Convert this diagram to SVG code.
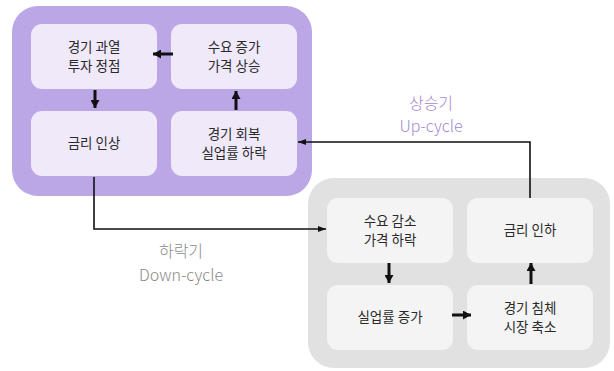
<svg xmlns="http://www.w3.org/2000/svg" width="614" height="371" viewBox="0 0 614 371">
<defs>
<style>
.pc{fill:#bca7e6}
.pb{fill:#efe9fa}
.gc{fill:#e1e1e1}
.gb{fill:#f4f4f4}
.t{font-family:"Noto Sans CJK KR","Noto Sans",sans-serif;font-size:13.5px;fill:#2a2a2a;text-anchor:middle}
.lbl{font-family:"Noto Sans CJK KR","Noto Sans",sans-serif;font-size:16px;font-weight:300;text-anchor:middle}
.thick{stroke:#111;stroke-width:3;fill:none}
.thin{stroke:#111;stroke-width:1.6;fill:none}
</style>
<marker id="ah" markerWidth="8" markerHeight="9" refX="8" refY="4.5" orient="auto" markerUnits="userSpaceOnUse"><path d="M0,0 L8,4.5 L0,9 Z" fill="#111"/></marker>
<marker id="ah2" markerWidth="8" markerHeight="6" refX="8" refY="3" orient="auto" markerUnits="userSpaceOnUse"><path d="M0,0 L8,3 L0,6 Z" fill="#111"/></marker>
</defs>
<rect class="pc" x="12" y="6" width="300" height="190" rx="26"/>
<rect class="gc" x="308" y="178" width="302" height="190" rx="26"/>
<g id="n-overheat"><rect class="pb" x="31" y="24" width="126" height="65" rx="11"/><text class="t" x="94" y="52">경기 과열</text><text class="t" x="94" y="71">투자 정점</text></g>
<g id="n-demandup"><rect class="pb" x="171" y="24" width="126" height="65" rx="11"/><text class="t" x="234" y="52">수요 증가</text><text class="t" x="234" y="71">가격 상승</text></g>
<g id="n-rateup"><rect class="pb" x="31" y="111" width="126" height="65" rx="11"/><text class="t" x="94" y="148">금리 인상</text></g>
<g id="n-recovery"><rect class="pb" x="171" y="111" width="126" height="65" rx="11"/><text class="t" x="234" y="139">경기 회복</text><text class="t" x="234" y="158">실업률 하락</text></g>
<g id="n-demanddown"><rect class="gb" x="327" y="198" width="126" height="65" rx="11"/><text class="t" x="390" y="226">수요 감소</text><text class="t" x="390" y="245">가격 하락</text></g>
<g id="n-ratedown"><rect class="gb" x="467" y="198" width="126" height="65" rx="11"/><text class="t" x="530" y="235">금리 인하</text></g>
<g id="n-unemp"><rect class="gb" x="327" y="285" width="126" height="65" rx="11"/><text class="t" x="390" y="322">실업률 증가</text></g>
<g id="n-recession"><rect class="gb" x="467" y="285" width="126" height="65" rx="11"/><text class="t" x="530" y="313">경기 침체</text><text class="t" x="530" y="332">시장 축소</text></g>
<g id="connectors">
<line class="thick" x1="173" y1="54" x2="153" y2="54" marker-end="url(#ah)"/>
<line class="thick" x1="95" y1="90" x2="95" y2="108" marker-end="url(#ah)"/>
<line class="thick" x1="236" y1="110" x2="236" y2="91" marker-end="url(#ah)"/>
<line class="thick" x1="389" y1="263" x2="389" y2="283" marker-end="url(#ah)"/>
<line class="thick" x1="452" y1="315" x2="471" y2="315" marker-end="url(#ah)"/>
<line class="thick" x1="531" y1="284" x2="531" y2="263" marker-end="url(#ah)"/>
<polyline class="thin" points="530,198 530,142 298,142" marker-end="url(#ah2)"/>
<polyline class="thin" points="94,177 94,229 326,229" marker-end="url(#ah2)"/>
</g>
<text class="lbl" x="431" y="109" fill="#9f8ad0">상승기</text>
<text class="lbl" x="431" y="132" fill="#9f8ad0">Up-cycle</text>
<text class="lbl" x="181" y="257" fill="#8a8a8a">하락기</text>
<text class="lbl" x="181" y="281" fill="#8a8a8a">Down-cycle</text>
</svg>
